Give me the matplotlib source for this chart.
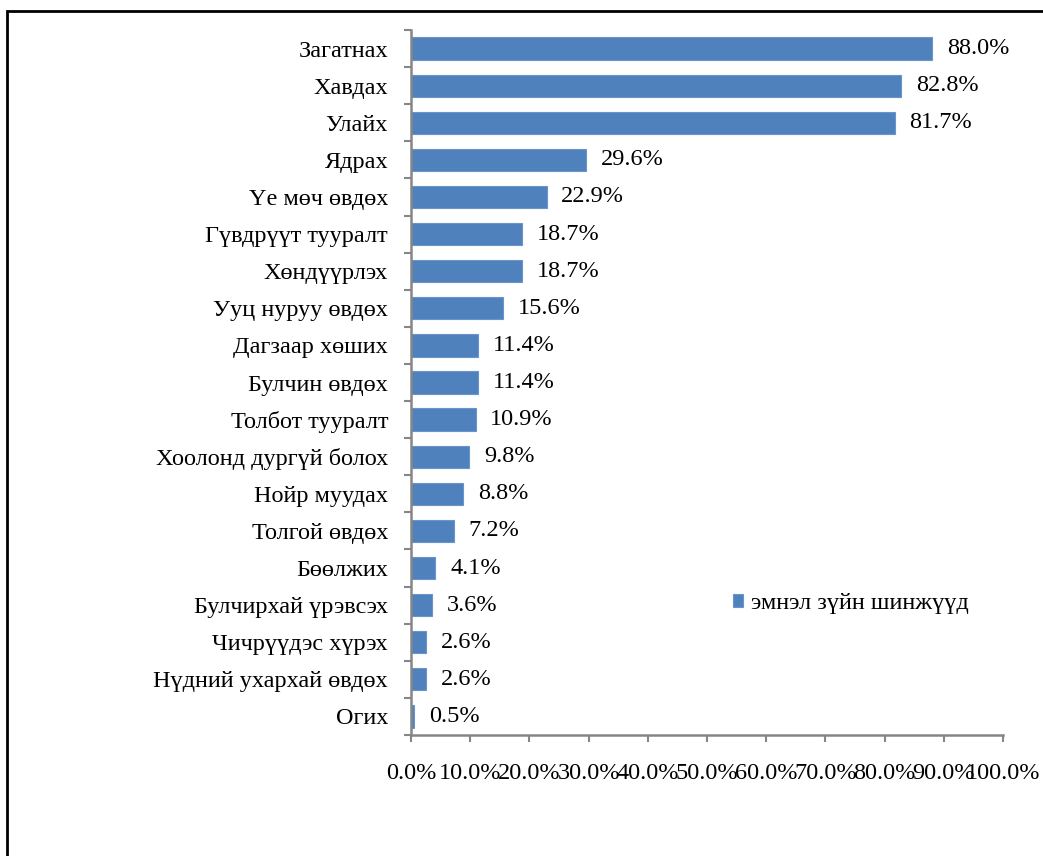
import matplotlib.pyplot as plt
from matplotlib.patches import Rectangle
import numpy as np

# Chart data (top to bottom as shown)
categories = [
    'Загатнах', 'Хавдах', 'Улайх', 'Ядрах', 'Үе мөч өвдөх',
    'Гүвдрүүт тууралт', 'Хөндүүрлэх', 'Ууц нуруу өвдөх', 'Дагзаар хөших',
    'Булчин өвдөх', 'Толбот тууралт', 'Хоолонд дургүй болох', 'Нойр муудах',
    'Толгой өвдөх', 'Бөөлжих', 'Булчирхай үрэвсэх', 'Чичрүүдэс хүрэх',
    'Нүдний ухархай өвдөх', 'Огих',
]
values = [88.0, 82.8, 81.7, 29.6, 22.9, 18.7, 18.7, 15.6, 11.4, 11.4,
          10.9, 9.8, 8.8, 7.2, 4.1, 3.6, 2.6, 2.6, 0.5]
series_name = 'эмнэл зүйн шинжүүд'
x_ticks = np.arange(0, 101, 10)

plt.rcParams['font.family'] = ['Liberation Serif', 'DejaVu Serif']

bar_color = '#4F81BD'
axis_color = '#868686'
fs = 17.5

fig = plt.figure(figsize=(10.43, 8.56), dpi=100)
ax = fig.add_axes([411 / 1043, 1 - 735 / 856, (1003 - 411) / 1043, (735 - 30) / 856])

y = np.arange(len(categories))
bars = ax.barh(y, values, height=0.6, color=bar_color, edgecolor='#6b95c9',
               linewidth=0.8, label=series_name)

# value labels
for yi, v in zip(y, values):
    ax.text(v + 2.5, yi, f'{v:.1f}%', va='center', ha='left', fontsize=fs)

ax.set_xlim(0, 100)
ax.set_ylim(len(categories) - 0.5, -0.5)
ax.set_xticks(x_ticks)
# labels overlap at the right end, as in the original chart
ax.set_xticklabels([f'{t:.1f}%' for t in x_ticks], fontsize=fs)

# category labels, ticks at boundaries
ax.set_yticks(y)
ax.set_yticklabels(categories, fontsize=fs)
ax.tick_params(axis='y', length=0, pad=16.5)
ax.set_yticks(np.arange(-0.5, len(categories), 1), minor=True)
ax.tick_params(axis='y', which='minor', length=5, width=1.5, color=axis_color)
ax.tick_params(axis='x', length=5, width=1.5, color=axis_color, pad=15)

for side in ['top', 'right']:
    ax.spines[side].set_visible(False)
for side in ['left', 'bottom']:
    ax.spines[side].set_color(axis_color)
    ax.spines[side].set_linewidth(1.8)

leg = ax.legend(loc='center left', bbox_to_anchor=(0.544, 0.186), frameon=False,
                fontsize=fs, handlelength=0.42, handleheight=0.42,
                handletextpad=0.3, borderpad=0, borderaxespad=0)

# outer border of the figure
fig.patches.append(Rectangle((7 / 1043, -0.1), 1.2, 1 - 11 / 856 + 0.1,
                             transform=fig.transFigure, fill=False,
                             edgecolor='black', linewidth=2.0))

fig.savefig('out.png', dpi=100)
